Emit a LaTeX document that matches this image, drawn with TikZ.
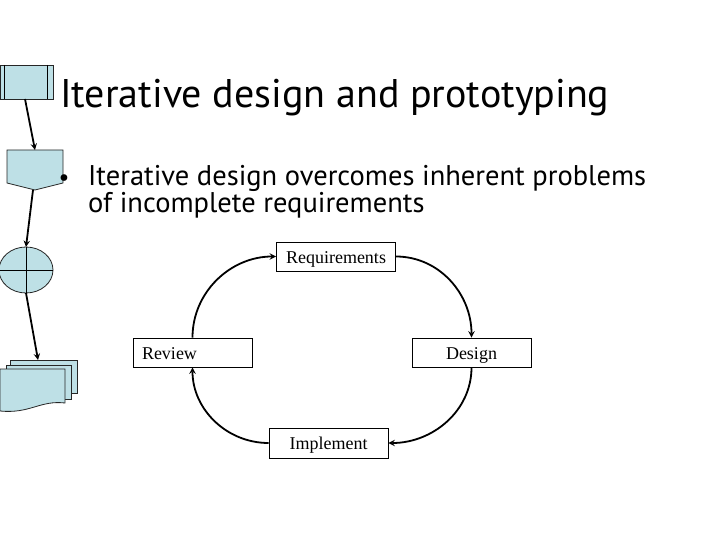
\documentclass[tikz,border=0pt]{standalone}
\usepackage{fontspec}
\setmainfont{Liberation Serif}
\newfontfamily\slidefont{PT Sans}
\usetikzlibrary{
		calc,
		positioning
	}
\definecolor{chartblue}{RGB}{190,224,230}
\tikzset{
		>=stealth,
		flowshape/.style={fill=chartblue, draw=black!85, line width=0.8pt},
		cyclebox/.style={draw, line width=0.9pt, minimum width=119pt, minimum height=29pt,
			inner sep=0pt, text height=13pt, text depth=0pt, font=\fontsize{18}{20}\selectfont},
		flowarrow/.style={->, line width=1.8pt},
		slidetext/.style={anchor=base west, inner sep=0pt, font=\slidefont\fontsize{28.5}{30}\selectfont}
	}

\begin{document}
\begin{tikzpicture}[x=1pt, y=1pt]
              \useasboundingbox (0,0) rectangle (720,-540);

              % draw the flowchart shapes on the left
              \filldraw[flowshape] (0,-65) rectangle (53,-99);
              \draw[line width=0.8pt] (4,-65) -- (4,-99);
              \draw[line width=0.8pt] (47,-65) -- (47,-99);
              \filldraw[flowshape] (7,-150) -- (63,-150) -- (63,-183) -- (35,-190) -- (7,-183) -- cycle;
              \filldraw[flowshape] (26,-270) ellipse (27 and 23);
              \draw[line width=0.8pt] (-1,-270) -- (53,-270);
              \draw[line width=0.8pt] (26,-247) -- (26,-293);
              \filldraw[flowshape] (10,-360) rectangle (77,-393);
              \filldraw[flowshape] (6,-365) rectangle (71,-399);
              \filldraw[flowshape] (0,-369) -- (65,-369) -- (65,-403)
                  .. controls (40,-400) and (30,-414) .. (0,-411) -- cycle;

              % the ends of the flowchart arrows
              \coordinate (proc) at (25,-99);
              \coordinate (conn-in) at (35,-150);
              \coordinate (conn-out) at (33,-190);
              \coordinate (sum-in) at (26,-247);
              \coordinate (sum-out) at (26,-293);
              \coordinate (docs) at (38,-360);

              \draw[flowarrow] (proc) -- (conn-in);
              \draw[flowarrow] (conn-out) -- (sum-in);
              \draw[flowarrow] (sum-out) -- (docs);

              % the texts
              \node[anchor=base west, inner sep=0pt, font=\slidefont\fontsize{40}{42}\selectfont] (title) at (60,-108) {Iterative design and prototyping};
              \node[anchor=base, inner sep=0pt, font=\slidefont\fontsize{24}{30}\selectfont] (bullet) at (64,-186) {\textbullet};
              \node[slidetext] (line1) at (88,-186) {Iterative design overcomes inherent problems};
              \node[slidetext] (line2) at (88,-213) {of incomplete requirements};

              % the boxes of the cycle
              \node[cyclebox] (req) at (336,-256.5) {Requirements};
              \node[cyclebox, text width=101pt, inner xsep=9pt, align=left] (review) at (192.5,-352.5) {Review};
              \node[cyclebox] (design) at (471.5,-352.5) {Design};
              \node[cyclebox, minimum height=30pt] (impl) at (328.5,-443) {Implement};

              % draw the arrows
              \draw[flowarrow] (review.north) to[out=90, in=180] (req.west);
              \draw[flowarrow] (req.east) to[out=0, in=90] (design.north);
              \draw[flowarrow] (design.south) to[out=-90, in=0] (impl.east);
              \draw[flowarrow] (impl.west) to[out=180, in=-90] (review.south);

          \end{tikzpicture}
\end{document}
